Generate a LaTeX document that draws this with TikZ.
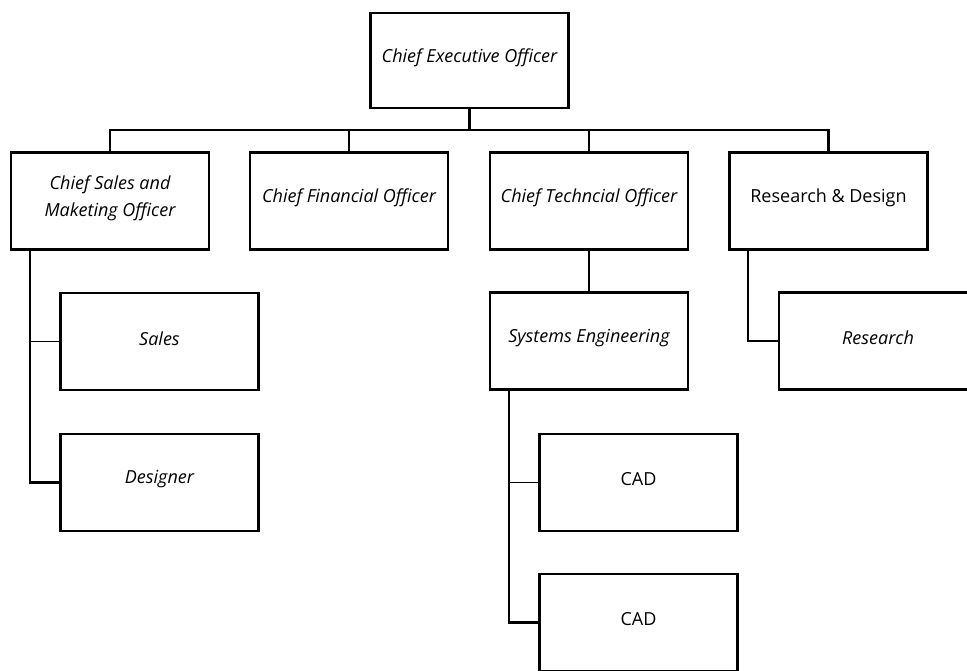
\documentclass[tikz,border=0pt]{standalone}
\usepackage{fontspec}
\setmainfont{Open Sans}
\begin{document}
\begin{tikzpicture}[x=1pt,y=-1pt,
  box/.style={draw=black, line width=2.3pt, minimum width=198pt, minimum height=97pt, inner sep=0pt},
  lbl/.style={font=\fontsize{18}{27}\selectfont, align=center, yshift=3pt},
  conn/.style={draw=black, line width=2.1pt},
  thin/.style={draw=black, line width=1.8pt}]
\useasboundingbox[fill=white] (0,0) rectangle (967,671);
\node[box, label={[lbl]center:\itshape Chief Executive Officer}] (ceo) at (469.5,60.5) [minimum height=95pt] {};
\node[box, label={[lbl]center:\itshape Chief Sales and\\\itshape Maketing Officer}] (cso) at (110,201) {};
\node[box, label={[lbl]center:\itshape Chief Financial Officer}] (cfo) at (349,201) {};
\node[box, label={[lbl]center:\itshape Chief Techncial Officer}] (cto) at (589,201) {};
\node[box, label={[lbl]center:Research \& Design}] (rd) at (828.5,201) {};
\node[box, label={[lbl]center:\itshape Sales}] (sales) at (159.5,341.5) {};
\node[box, label={[lbl]center:\itshape Designer}] (des) at (159.5,482.5) {};
\node[box, label={[lbl]center:\itshape Systems Engineering}] (sys) at (589,341) {};
\node[box, label={[lbl]center:\itshape Research}] (res) at (878,341) {};
\node[box, label={[lbl]center:CAD}] (cad1) at (638.5,482.5) {};
\node[box, label={[lbl]center:CAD}] (cad2) at (638.5,622.5) {};
\coordinate (bus) at (0,130);
\draw[conn] (ceo.south) -- (ceo.south |- bus);
\draw[conn] (cso.north) -- (cso.north |- bus) -- (rd.north |- bus) -- (rd.north);
\draw[conn] (cfo.north) -- (cfo.north |- bus);
\draw[conn] (cto.north) -- (cto.north |- bus);
\draw[conn] (cto.south) -- (sys.north);
\coordinate (s1) at ([xshift=20pt]cso.south west);
\draw[conn] (s1) |- (des.west);
\draw[thin] (s1 |- sales.west) -- (sales.west);
\coordinate (s2) at ([xshift=20pt]sys.south west);
\draw[conn] (s2) |- (cad2.west);
\draw[thin] (s2 |- cad1.west) -- (cad1.west);
\coordinate (s3) at ([xshift=20pt]rd.south west);
\draw[conn] (s3) |- (res.west);
\end{tikzpicture}
\end{document}
